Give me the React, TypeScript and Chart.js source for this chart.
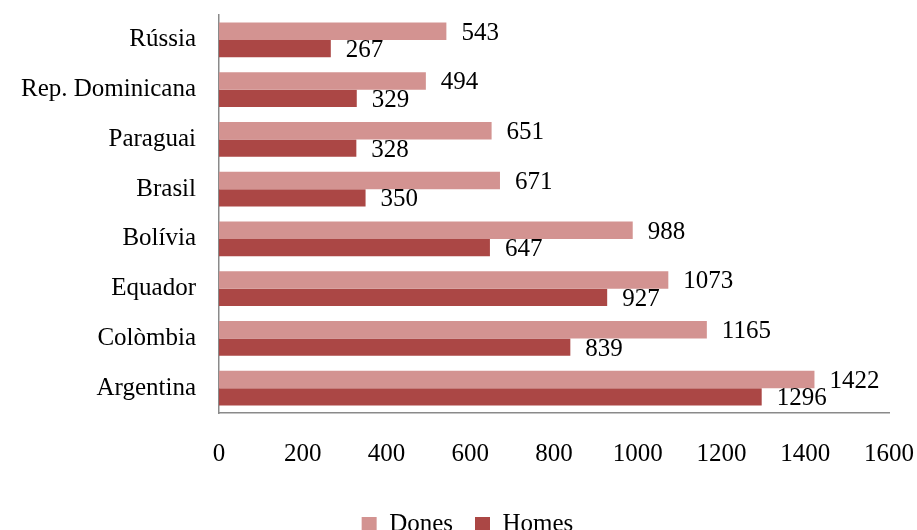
import React, { useEffect, useRef } from "react";
import { Chart, registerables } from "chart.js";

Chart.register(...registerables);

const categories = ["Rússia", "Rep. Dominicana", "Paraguai", "Brasil", "Bolívia", "Equador", "Colòmbia", "Argentina"];
const dones = [543, 494, 651, 671, 988, 1073, 1165, 1422];
const homes = [267, 329, 328, 350, 647, 927, 839, 1296];
const xTicks = [0, 200, 400, 600, 800, 1000, 1200, 1400, 1600];

const FONT = "'Liberation Serif', 'Times New Roman', serif";
const FS = 25;

const valueLabels = {
  id: "valueLabels",
  afterDatasetsDraw(chart: any) {
    const ctx = chart.ctx;
    ctx.save();
    ctx.font = `${FS}px ${FONT}`;
    ctx.fillStyle = "#000";
    ctx.textAlign = "left";
    ctx.textBaseline = "middle";
    chart.data.datasets.forEach((ds: any, di: number) => {
      const meta = chart.getDatasetMeta(di);
      meta.data.forEach((bar: any, i: number) => {
        ctx.fillText(String(ds.data[i]), bar.x + 15, bar.y + 2);
      });
    });
    ctx.restore();
  },
};

const legendShift = {
  id: "legendShift",
  afterLayout(chart: any) {
    const lg = chart.legend;
    if (lg) {
      lg.left += 46;
      lg.right += 0;
    }
  },
};

const zeroPad = (scale: any) => {
  scale.paddingTop = 0;
  scale.paddingBottom = 0;
  scale.paddingLeft = 0;
  scale.paddingRight = 0;
};

export default function App() {
  const ref = useRef<HTMLCanvasElement>(null);
  useEffect(() => {
    if (!ref.current) return;
    const chart = new Chart(ref.current, {
      type: "bar",
      data: {
        labels: categories,
        datasets: [
          { label: "Dones", data: dones, backgroundColor: "#D39391", borderWidth: 0, categoryPercentage: 0.7, barPercentage: 1 },
          { label: "Homes", data: homes, backgroundColor: "#AB4745", borderWidth: 0, categoryPercentage: 0.7, barPercentage: 1 },
        ],
      },
      options: {
        indexAxis: "y",
        animation: false,
        responsive: false,
        maintainAspectRatio: false,
        layout: { padding: { top: 15, right: 28, left: 0, bottom: 0 } },
        scales: {
          x: {
            min: 0,
            max: 1600,
            afterBuildTicks: (scale: any) => {
              scale.ticks = xTicks.map((v) => ({ value: v }));
            },
            afterFit: (scale: any) => {
              scale.height = 77;
              zeroPad(scale);
            },
            grid: { display: false },
            border: { display: true, color: "#8a8a8a", width: 1.5 },
            ticks: {
              color: "#000",
              font: { family: FONT, size: FS },
              padding: 18,
              maxRotation: 0,
              callback: (v: any) => String(v),
            },
          },
          y: {
            afterFit: (scale: any) => {
              scale.width = 219;
              zeroPad(scale);
            },
            grid: { display: false },
            border: { display: true, color: "#8a8a8a", width: 1.5 },
            ticks: { color: "#000", font: { family: FONT, size: FS }, padding: 15 },
          },
        },
        plugins: {
          legend: {
            position: "bottom",
            labels: {
              color: "#000",
              font: { family: FONT, size: FS },
              boxWidth: 15,
              boxHeight: 15,
              padding: 22,
            },
          },
          tooltip: { enabled: false },
        },
      },
      plugins: [valueLabels, legendShift],
    });
    return () => chart.destroy();
  }, []);
  return (
    <div style={{ position: "fixed", left: 0, top: 0, width: 917, height: 530, overflow: "hidden", background: "#fff" }}>
      <canvas ref={ref} width={917} height={547} style={{ display: "block", width: 917, height: 547 }} />
    </div>
  );
}
